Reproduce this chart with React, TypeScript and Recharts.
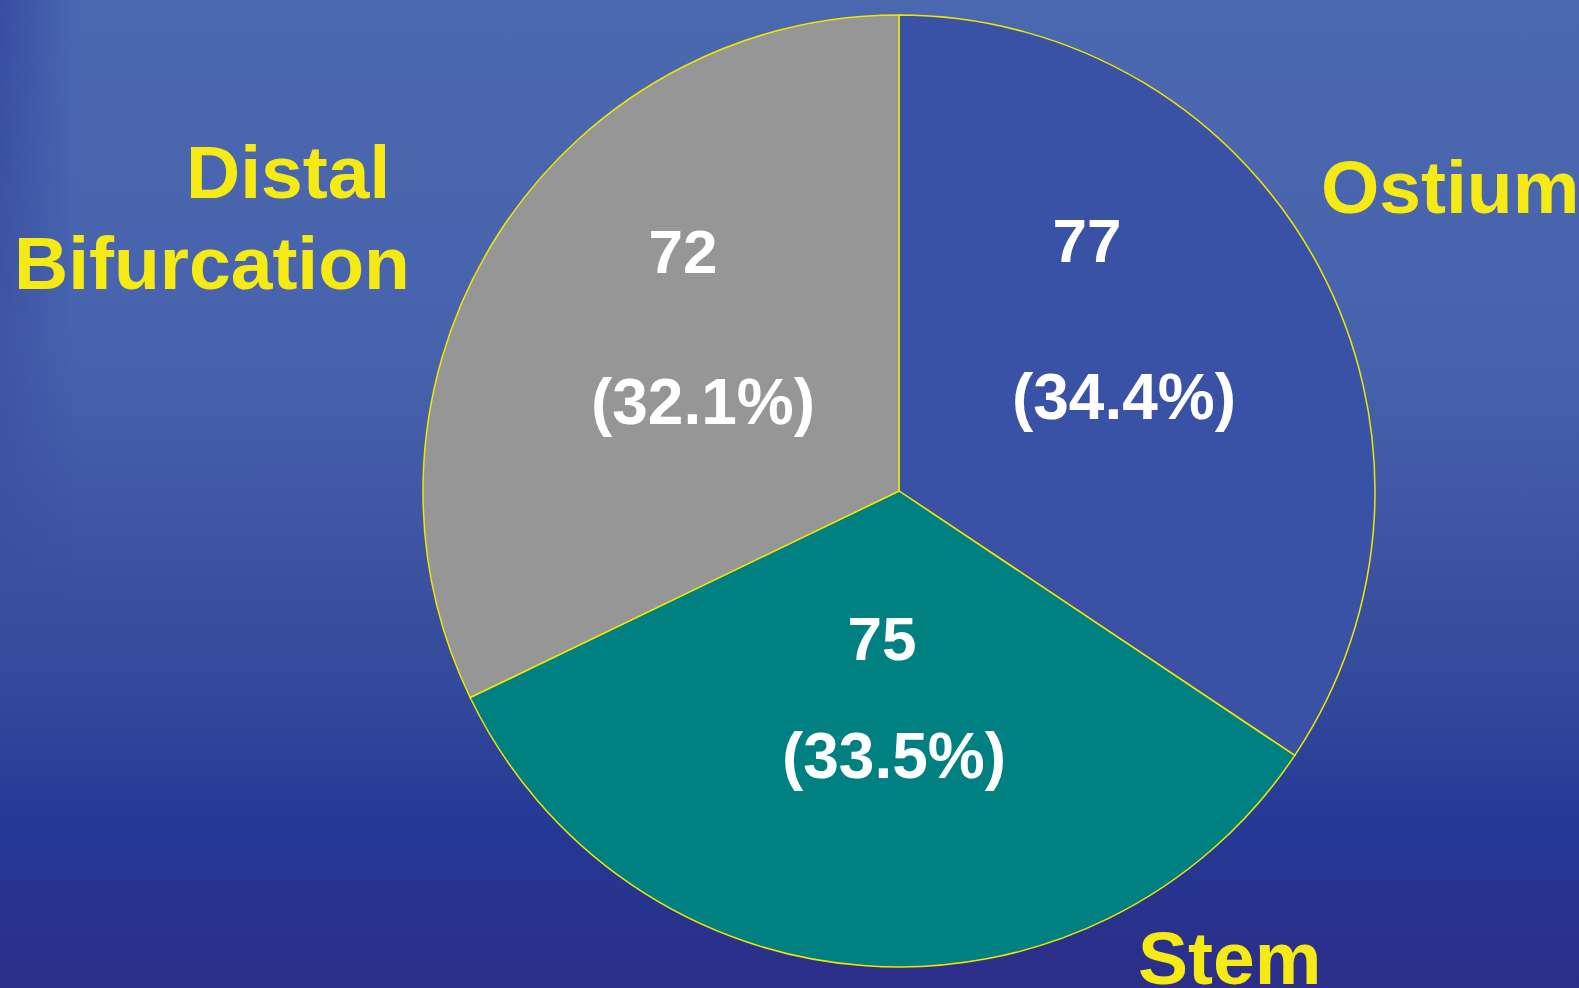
import { Pie, PieChart, Cell } from "recharts";

const names = ["Ostium", "Stem", "Distal Bifurcation"];
const counts = [77, 75, 72];
const sliceColors = ["#3A52A5", "#008080", "#969696"];

const data = names.map((name, i) => ({ name, value: counts[i] }));

// text spots as offsets from the pie centre, in units of the pie radius (476px)
// value / percent: [dx, baseline dy]; title lines: [left x, baseline dy]
const placement: Record<string, { value: number[]; pct: number[]; title: number[][] }> = {
  Ostium: { value: [188, -229], pct: [225, -72], title: [[422, -278]] },
  Stem: { value: [-17, 169], pct: [-5, 287], title: [[239, 493]] },
  "Distal Bifurcation": { value: [-216, -218], pct: [-196, -67], title: [[-713, -293], [-885, -202]] },
};

function renderLabel(props: any) {
  const { cx, cy, outerRadius, name, value, percent } = props;
  const p = placement[name];
  const k = outerRadius / 476;
  const words = name.split(" ");
  const white = { fill: "#fff", fontWeight: "bold" as const, textAnchor: "middle" as const };
  return (
    <g>
      <text x={cx + p.value[0] * k} y={cy + p.value[1] * k} fontSize={62} {...white}>
        {value}
      </text>
      <text x={cx + p.pct[0] * k} y={cy + p.pct[1] * k} fontSize={64} {...white}>
        ({(percent * 100).toFixed(1)}%)
      </text>
      {words.map((w: string, j: number) => (
        <text
          key={w}
          x={cx + p.title[j][0] * k}
          y={cy + p.title[j][1] * k}
          fill="#F5EA14"
          fontSize={75}
          fontWeight="bold"
          textAnchor="start"
        >
          {w}
        </text>
      ))}
    </g>
  );
}

export default function App() {
  return (
    <div
      style={{
        position: "absolute",
        left: 0,
        top: 0,
        width: 1579,
        height: 988,
        overflow: "hidden",
        fontFamily: "'Liberation Sans', Arial, sans-serif",
        background:
          "linear-gradient(to bottom, #4A68B0 0%, #4863AD 35%, #3D54A2 55%, #31479A 72%, #243895 84%, #2C2E88 100%)",
      }}
    >
      <div
        style={{
          position: "absolute",
          left: 0,
          top: 0,
          width: 80,
          height: 988,
          background: "linear-gradient(to right, rgba(30,40,140,0.4) 0px, rgba(30,40,140,0) 75px)",
          WebkitMaskImage: "linear-gradient(to bottom, #000 0%, rgba(0,0,0,0.6) 35%, transparent 62%)",
          maskImage: "linear-gradient(to bottom, #000 0%, rgba(0,0,0,0.6) 35%, transparent 62%)",
        }}
      />
      <PieChart
        width={1579}
        height={988}
        margin={{ top: 0, right: 0, bottom: 0, left: 0 }}
        style={{ position: "absolute", left: 0, top: 0, fontFamily: "'Liberation Sans', Arial, sans-serif" }}
      >
        <Pie
          data={data}
          dataKey="value"
          nameKey="name"
          cx={899}
          cy={491}
          outerRadius={476}
          startAngle={90}
          endAngle={-270}
          stroke="#F0E600"
          strokeWidth={1.5}
          label={renderLabel}
          labelLine={false}
          isAnimationActive={false}
        >
          {data.map((d, i) => (
            <Cell key={d.name} fill={sliceColors[i]} />
          ))}
        </Pie>
      </PieChart>
    </div>
  );
}
